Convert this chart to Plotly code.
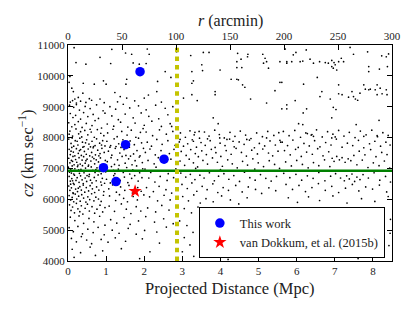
import plotly.graph_objects as go

# ---------------- data ----------------
# Projected distance (Mpc), cz (km/s) of the background galaxy cloud, by region
core_inner = [  # x 0-1, y 5500-8300
 (0.05,8210),(0.12,8050),(0.21,8280),(0.28,8120),(0.36,8020),(0.44,8230),(0.52,8090),(0.61,8180),(0.69,8010),(0.77,8260),(0.86,8140),(0.94,8060),(0.03,8110),(0.33,8190),(0.58,8270),
 (0.02,7950),(0.08,7810),(0.15,7720),(0.19,7900),(0.26,7760),(0.31,7980),(0.38,7850),(0.42,7710),(0.49,7930),(0.55,7790),(0.63,7880),(0.71,7740),(0.75,7960),(0.83,7820),(0.91,7900),(0.97,7730),(0.11,7990),(0.46,7830),(0.67,7710),(0.88,7760),(0.24,7880),
 (0.03,7620),(0.06,7450),(0.10,7680),(0.14,7530),(0.18,7410),(0.22,7640),(0.27,7490),(0.30,7580),(0.35,7420),(0.39,7690),(0.43,7550),(0.48,7460),(0.53,7630),(0.57,7410),(0.62,7520),(0.66,7670),(0.72,7440),(0.78,7590),(0.84,7480),(0.89,7650),(0.95,7520),(0.08,7560),(0.33,7610),(0.59,7700),(0.81,7410),
 (0.02,7330),(0.05,7180),(0.09,7260),(0.13,7390),(0.16,7120),(0.20,7290),(0.23,7200),(0.29,7350),(0.32,7140),(0.37,7270),(0.41,7380),(0.45,7170),(0.50,7300),(0.54,7110),(0.60,7240),(0.64,7370),(0.70,7150),(0.74,7280),(0.80,7210),(0.85,7340),(0.92,7130),(0.98,7260),(0.12,7230),(0.26,7110),(0.47,7250),(0.68,7320),
 (0.01,7040),(0.04,6880),(0.07,6960),(0.11,7080),(0.15,6820),(0.18,6990),(0.22,6910),(0.25,7060),(0.30,6840),(0.34,6970),(0.38,7090),(0.42,6860),(0.46,7010),(0.51,6920),(0.56,6810),(0.61,7050),(0.65,6940),(0.71,6870),(0.76,7020),(0.82,6900),(0.87,6830),(0.93,7000),(0.99,6890),(0.09,6850),(0.28,6950),(0.53,7070),(0.73,6960),
 (0.03,6740),(0.06,6590),(0.10,6670),(0.14,6520),(0.17,6780),(0.21,6610),(0.24,6700),(0.29,6550),(0.33,6760),(0.37,6630),(0.40,6510),(0.45,6690),(0.49,6580),(0.55,6740),(0.59,6620),(0.63,6530),(0.69,6710),(0.74,6600),(0.79,6790),(0.86,6560),(0.90,6680),(0.96,6520),(0.12,6600),(0.50,6770),
 (0.02,6430),(0.05,6290),(0.09,6370),(0.13,6210),(0.16,6480),(0.20,6330),(0.25,6250),(0.31,6410),(0.35,6300),(0.40,6460),(0.44,6230),(0.48,6380),(0.54,6270),(0.58,6440),(0.64,6340),(0.70,6220),(0.75,6400),(0.81,6300),(0.88,6460),(0.94,6250),(0.07,6490),(0.27,6360),
 (0.03,6120),(0.07,5980),(0.11,6060),(0.15,5920),(0.19,6170),(0.23,6010),(0.28,6100),(0.32,5940),(0.36,6150),(0.41,6040),(0.47,5910),(0.52,6080),(0.57,5990),(0.62,6180),(0.68,5950),(0.73,6070),(0.80,6010),(0.87,5930),(0.93,6130),(0.14,6190),
 (0.04,5820),(0.08,5640),(0.12,5750),(0.17,5560),(0.22,5870),(0.26,5690),(0.31,5600),(0.35,5790),(0.39,5520),(0.45,5710),(0.51,5840),(0.56,5620),(0.63,5760),(0.70,5550),(0.76,5680),(0.84,5810),(0.91,5590),(0.97,5730),
]
core_mid = [  # x 1-2, y 5500-8300
 (1.04,8150),(1.18,8270),(1.29,8030),(1.41,8200),(1.55,8080),(1.66,8240),(1.78,8010),(1.90,8170),(1.97,8290),
 (1.02,7880),(1.12,7740),(1.21,7960),(1.33,7800),(1.44,7930),(1.58,7720),(1.63,7890),(1.74,7770),(1.85,7980),(1.93,7830),(1.26,7710),
 (1.06,7560),(1.15,7430),(1.24,7650),(1.36,7500),(1.47,7610),(1.52,7420),(1.61,7690),(1.72,7470),(1.81,7580),(1.89,7410),(1.98,7650),(1.10,7690),(1.39,7680),
 (1.03,7220),(1.13,7350),(1.22,7130),(1.30,7280),(1.42,7390),(1.50,7170),(1.59,7310),(1.68,7120),(1.76,7250),(1.87,7370),(1.95,7190),(1.34,7100),(1.64,7400),
 (1.05,6910),(1.14,7060),(1.23,6830),(1.32,6980),(1.45,6870),(1.54,7030),(1.62,6820),(1.70,6950),(1.80,7080),(1.88,6860),(1.96,6990),(1.19,6940),
 (1.01,6650),(1.11,6530),(1.20,6770),(1.37,6610),(1.48,6720),(1.57,6540),(1.67,6680),(1.75,6770),(1.84,6590),(1.94,6700),(1.29,6510),
 (1.07,6340),(1.17,6470),(1.27,6230),(1.38,6400),(1.49,6290),(1.60,6450),(1.69,6200),(1.83,6380),(1.92,6260),
 (1.09,6110),(1.25,5960),(1.35,6150),(1.46,6030),(1.56,5920),(1.71,6090),(1.82,5980),(1.99,6140),
 (1.08,5780),(1.22,5610),(1.40,5850),(1.53,5680),(1.65,5540),(1.79,5760),(1.91,5620),
]
core_outer = [  # x 2-2.9, y 5500-8300
 (2.05,8180),(2.22,8060),(2.40,8250),(2.58,8110),(2.75,8200),
 (2.08,7850),(2.19,7720),(2.33,7940),(2.47,7780),(2.62,7900),(2.81,7750),
 (2.03,7520),(2.15,7630),(2.29,7440),(2.44,7580),(2.66,7480),(2.78,7620),
 (2.10,7260),(2.26,7150),(2.37,7350),(2.55,7210),(2.70,7300),(2.86,7140),
 (2.02,6980),(2.17,6870),(2.31,7040),(2.49,6920),(2.63,6830),(2.83,6990),
 (2.12,6690),(2.28,6560),(2.42,6740),(2.60,6610),(2.77,6700),
 (2.06,6380),(2.24,6250),(2.39,6420),(2.57,6310),(2.72,6200),
 (2.14,6080),(2.35,5950),(2.52,6130),(2.68,5980),
 (2.09,5720),(2.30,5590),(2.46,5800),(2.65,5650),(2.84,5530),
]
core_low = [  # x 0-2.9, y 4000-5500
 (0.06,5420),(0.18,5310),(0.29,5460),(0.41,5220),(0.55,5380),(0.68,5270),(0.83,5450),(0.97,5160),(1.12,5340),(1.28,5230),(1.47,5410),(1.63,5190),(1.85,5300),(2.04,5440),(2.27,5260),(2.51,5370),(2.76,5210),
 (0.03,5080),(0.14,4950),(0.26,5120),(0.38,4880),(0.52,5030),(0.66,4920),(0.79,5090),(0.95,4850),(1.16,5000),(1.34,4900),(1.58,5060),(1.79,4870),(2.01,4990),(2.33,4940),(2.58,5100),
 (0.09,4730),(0.22,4620),(0.35,4790),(0.49,4680),(0.62,4560),(0.87,4700),(1.05,4610),(1.24,4750),(1.51,4640),(1.95,4720),(2.40,4580),
 (0.11,4380),(0.33,4270),(0.58,4450),(0.91,4330),(1.40,4400),(2.15,4300),(0.16,4120),(0.72,4180),(1.88,4080),
]
core_high = [  # x 0-2.9, y 8300-11000
 (0.04,9050),(0.15,8980),(0.22,9070),(0.30,8890),(0.45,9010),(0.58,8940),(0.75,9060),(0.92,8870),(1.10,9000),(1.25,8920),(1.45,9080),(1.62,8960),(1.85,9030),(2.05,8900),(2.30,9050),(2.55,8950),(2.75,9000),
 (0.06,8780),(0.13,8650),(0.20,8720),(0.33,8600),(0.41,8810),(0.52,8680),(0.66,8750),(0.80,8620),(0.97,8790),(1.15,8700),(1.32,8580),(1.50,8760),(1.71,8640),(1.92,8800),(2.12,8690),(2.38,8610),(2.62,8740),
 (0.02,8480),(0.10,8350),(0.18,8420),(0.27,8520),(0.37,8330),(0.48,8460),(0.63,8390),(0.71,8550),(0.88,8310),(1.03,8440),(1.20,8370),(1.38,8500),(1.57,8340),(1.76,8470),(2.00,8400),(2.20,8530),(2.45,8360),(2.68,8450),
 (0.06,9150),(0.12,9200),(0.22,9120),(0.33,9180),(0.47,9140),(0.62,9210),(0.95,9130),(1.30,9160),(1.75,9190),(2.45,9150),
 (0.16,10913),(1.15,10860),(1.51,10740),(1.67,10700),(2.08,10870),(2.13,10700),(0.21,10430),(0.47,10380),(0.84,10600),(1.12,10400),(1.71,10420),(1.87,10380),(2.05,10400),(2.55,10140),(2.70,9950),(0.05,9980),(0.03,9790),(0.40,9760),(0.69,9730),(0.93,9840),(1.00,9730),(1.54,9890),(1.52,9730),(2.35,9820),(0.10,9600),(0.14,9490),(0.39,9440),(0.18,9250),(0.27,9300),(0.56,9260),(0.84,9250),(1.23,9460),(1.37,9330),(1.54,9280),(2.00,9280),(2.11,9380),(2.33,9490),
]
field_high = [  # x 2.9-8.5, y 7900-11000
 (2.85,10785),(3.22,10660),(3.55,10760),(3.70,10760),(3.51,10360),(4.45,10730),(4.72,10700),(4.71,10620),(4.54,10540),(4.43,10460),(5.11,10700),(5.17,10570),(5.21,10460),(5.13,10410),(5.26,10250),(5.56,10460),(5.74,10410),
 (3.25,10140),(3.53,10170),(3.99,10190),(4.43,10270),(4.56,10270),(4.28,9890),(4.43,9890),(4.47,9870),(3.29,9840),(3.25,9760),(4.58,9710),(4.64,9630),(5.56,9790),(3.03,9280),(3.25,9390),(3.86,9490),(3.86,9390),(3.39,9200),(4.79,9250),(5.43,9520),(5.21,9120),(5.61,8930),(5.74,9060),
 (3.81,8640),(2.72,8360),(3.94,8450),(3.33,8170),(3.44,8200),(2.94,7940),(3.29,7880),(3.66,7960),(3.98,7990),(4.17,7940),(4.33,7880),(4.69,7940),(5.21,7990),(5.56,7910),
 (5.70,10870),(5.98,10760),(6.25,10840),(5.91,10680),(5.87,10460),(5.74,10460),(6.09,10460),(6.16,10480),(6.35,10540),(6.44,10410),(6.60,10460),(6.75,10430),(6.83,10410),(6.92,10500),(6.98,10430),(7.01,10360),(7.10,10460),(7.17,10570),(7.23,10460),(6.96,10250),(7.05,10190),(6.92,10300),
 (7.40,10920),(7.49,10700),(7.86,10780),(8.23,10650),(8.35,10620),(8.41,10710),(7.89,10300),(8.17,10220),(8.38,10300),(7.89,10140),(6.54,9950),(5.61,9790),(6.18,9730),(7.10,9710),(7.76,9710),(8.11,9710),
 (7.80,9570),(7.89,9550),(7.93,9570),(8.06,9550),(8.19,9600),(8.35,9550),(7.45,9490),(6.66,9490),(7.10,9420),(7.19,9390),(7.36,9310),(7.49,9330),(7.54,9250),(7.60,9210),(7.66,9440),(8.11,9390),(8.24,9420),(8.37,9390),(6.61,9330),(6.88,9250),(5.96,9200),
 (5.74,8930),(6.26,8930),(6.17,8800),(6.96,8980),(7.03,8910),(6.92,8640),(8.16,8560),(6.05,8450),(6.16,8420),(7.56,8420),(6.28,8130),(6.40,8100),(6.44,8040),(7.01,8020),(6.92,7990),(7.76,8040),(8.11,8060),
]
field_mid = [  # x 2.9-5.6, y 4000-8300
 (2.95,8150),(3.08,8010),(3.20,8220),(3.31,8090),(3.45,7980),(3.58,8180),(3.70,8050),(3.85,8240),(3.97,8100),(4.10,7990),(4.25,8170),(4.38,8040),(4.52,8210),(4.66,8080),(4.80,7970),(4.95,8150),(5.10,8030),(5.24,8200),(5.40,8070),(5.53,8160),
 (2.92,7860),(3.03,7720),(3.14,7800),(3.26,7930),(3.37,7690),(3.49,7840),(3.60,7750),(3.73,7900),(3.86,7680),(3.99,7820),(4.12,7740),(4.24,7950),(4.36,7700),(4.49,7860),(4.62,7780),(4.76,7920),(4.89,7670),(5.02,7810),(5.16,7730),(5.30,7890),(5.44,7760),(5.58,7850),
 (2.97,7550),(3.10,7420),(3.22,7610),(3.34,7480),(3.42,7380),(3.51,7570),(3.63,7450),(3.76,7620),(3.88,7510),(4.01,7390),(4.15,7580),(4.28,7460),(4.41,7650),(4.55,7520),(4.68,7400),(4.82,7590),(4.97,7470),(5.11,7630),(5.26,7500),(5.37,7410),(5.51,7560),
 (2.94,7240),(3.06,7100),(3.18,7300),(3.29,7180),(3.40,7050),(3.54,7260),(3.66,7140),(3.79,7340),(3.92,7200),(4.05,7070),(4.19,7280),(4.31,7150),(4.44,7020),(4.58,7230),(4.71,7110),(4.85,7310),(4.99,7180),(5.13,7060),(5.28,7250),(5.42,7130),(5.55,7000),(3.35,7000),(4.00,6960),(4.90,6980),
 (2.96,6850),(3.09,6720),(3.21,6810),(3.33,6640),(3.46,6780),(3.57,6690),(3.71,6860),(3.84,6600),(3.95,6750),(4.09,6830),(4.22,6650),(4.35,6770),(4.50,6580),(4.63,6880),(4.77,6700),(4.91,6620),(5.05,6800),(5.19,6680),(5.33,6590),(5.47,6740),
 (2.99,6480),(3.13,6350),(3.25,6530),(3.38,6260),(3.52,6420),(3.65,6310),(3.80,6500),(3.93,6220),(4.07,6380),(4.21,6290),(4.40,6450),(4.57,6240),(4.73,6400),(4.92,6320),(5.08,6190),(5.27,6370),(5.45,6280),
 (3.01,6090),(3.16,5950),(3.30,6140),(3.47,5880),(3.62,6020),(3.81,5920),(4.03,6110),(4.26,5980),(4.48,5850),(4.70,6050),(3.05,5700),(3.24,5560),(3.41,5750),(3.68,5630),(3.90,5480),(4.15,5690),
 (2.93,5300),(3.12,5150),(3.28,4930),(3.05,4760),(3.20,4520),(3.00,4300),(3.30,4150),(4.20,4050),
]
field_far = [  # x 5.6-8.5, y 4000-8300
 (5.65,8200),(5.80,8060),(5.95,8230),(6.10,8010),(6.24,8150),(6.38,8080),(6.52,8250),(6.67,8020),(6.81,8190),(6.95,8110),(7.10,8230),(7.24,8050),(7.38,8170),(7.53,8000),(7.67,8210),(7.82,8090),(7.97,8240),(8.12,8030),(8.26,8160),(8.40,8070),
 (5.62,7850),(5.76,7740),(5.90,7920),(6.04,7680),(6.19,7810),(6.33,7730),(6.47,7900),(6.61,7700),(6.76,7840),(6.90,7760),(7.04,7950),(7.19,7690),(7.33,7820),(7.47,7740),(7.62,7910),(7.76,7670),(7.91,7800),(8.05,7880),(8.20,7720),(8.34,7850),(8.45,7760),
 (5.68,7580),(5.83,7440),(5.97,7620),(6.12,7390),(6.26,7530),(6.41,7460),(6.55,7640),(6.69,7410),(6.84,7540),(6.93,7330),(6.98,7230),(7.05,7390),(7.12,7280),(7.19,7350),(7.27,7200),(7.35,7310),(7.42,7250),(7.50,7420),(7.64,7560),(7.79,7440),(7.94,7610),(8.08,7380),(8.23,7520),(8.37,7450),
 (5.71,7210),(5.86,7080),(6.00,7260),(6.15,7130),(6.30,7020),(6.44,7190),(6.58,7090),(6.73,7280),(6.87,7060),(7.58,7120),(7.72,7270),(7.87,7030),(8.01,7180),(8.16,7090),(8.30,7240),(8.44,7010),
 (5.66,6840),(5.82,6700),(5.98,6810),(6.13,6620),(6.28,6760),(6.43,6680),(6.58,6870),(6.74,6600),(6.89,6750),(7.02,6830),(7.15,6690),(7.25,6600),(7.31,6760),(7.38,6660),(7.45,6820),(7.52,6580),(7.58,6720),(7.66,6640),(7.74,6800),(7.88,6690),(8.03,6860),(8.18,6620),(8.33,6740),(8.46,6560),
 (5.72,6480),(5.89,6320),(6.06,6450),(6.23,6250),(6.40,6380),(6.57,6510),(6.75,6290),(6.92,6420),(7.10,6220),(7.28,6360),(7.46,6480),(7.63,6270),(7.81,6400),(7.99,6330),(8.17,6460),(8.36,6240),
 (5.78,6050),(6.02,5900),(6.31,6080),(6.60,5960),(6.95,6110),(7.32,5880),(7.70,6020),(8.05,5930),(8.40,6090),
 (5.85,5580),(6.60,5490),(7.40,5650),(8.20,5520),(7.05,5380),(8.46,5350),(7.61,5480),(7.85,5470),(8.45,4900),(8.42,4500),(7.61,4080),
]

this_work_x = [1.89, 1.51, 2.52, 0.93, 1.26]
this_work_y = [10135, 7770, 7300, 7025, 6575]
vd_x = [1.76]
vd_y = [6260]

coma_cz = 6925          # green horizontal line
r_vir_mpc = 2.86        # yellow dashed vertical line
x_range_mpc = [0, 8.5]
x_range_arcmin = [0, 300]
y_range = [4000, 11000]

bottom_ticks = [0, 1, 2, 3, 4, 5, 6, 7, 8]
top_ticks = [0, 50, 100, 150, 200, 250, 300]
y_ticks = [4000, 5000, 6000, 7000, 8000, 9000, 10000, 11000]

x_title = "Projected Distance (Mpc)"
top_title = "<i>r</i> (arcmin)"
y_title = "<i>cz</i> (km sec<sup>−1</sup>)"

# ---------------- figure ----------------
bg = core_inner + core_mid + core_outer + core_low + core_high + field_high + field_mid + field_far
bg_x = [p[0] for p in bg]
bg_y = [p[1] for p in bg]

FONT = "Liberation Serif, Times New Roman, serif"
TXT = "#222"
fig = go.Figure()
fig.add_trace(go.Scatter(x=bg_x, y=bg_y, mode="markers", showlegend=False,
                         marker=dict(color="black", size=1.7, line=dict(width=0)),
                         hoverinfo="skip"))
fig.add_trace(go.Scatter(x=x_range_mpc, y=[coma_cz, coma_cz], mode="lines", showlegend=False,
                         line=dict(color="#008000", width=2.3), hoverinfo="skip"))
fig.add_trace(go.Scatter(x=[r_vir_mpc, r_vir_mpc], y=y_range, mode="lines", showlegend=False,
                         line=dict(color="#c4c400", width=4, dash="4.5px,4.2px"), hoverinfo="skip"))
fig.add_trace(go.Scatter(x=this_work_x, y=this_work_y, mode="markers", name="This work",
                         marker=dict(color="#0000ff", size=9.5, line=dict(width=0))))
fig.add_trace(go.Scatter(x=vd_x, y=vd_y, mode="markers", name="van Dokkum, et al. (2015b)",
                         marker=dict(color="#ff0000", size=10, symbol="star", line=dict(width=0))))
# invisible trace to carry the top (arcmin) axis
fig.add_trace(go.Scatter(x=x_range_arcmin, y=[y_range[0], y_range[0]], xaxis="x2", mode="markers",
                         marker=dict(opacity=0), showlegend=False, hoverinfo="skip"))

axis_common = dict(showgrid=False, zeroline=False, showline=True, linecolor="black", linewidth=1.2,
                   ticks="inside", ticklen=5, tickwidth=1, tickcolor="black", automargin=False,
                   tickfont=dict(family=FONT, size=11, color=TXT))

fig.update_layout(
    template="none",
    # the page body adds an 8px offset, so the figure is sized/margined to land the
    # plot area at the same place as in the reference
    width=407, height=304,
    margin=dict(l=60, r=23, t=37, b=51),
    paper_bgcolor="white", plot_bgcolor="white",
    font=dict(family=FONT, color=TXT),
    xaxis=dict(range=x_range_mpc, tickvals=bottom_ticks, **axis_common),
    xaxis2=dict(range=x_range_arcmin, tickvals=top_ticks, overlaying="x", side="top", anchor="y",
                **axis_common),
    yaxis=dict(range=y_range, tickvals=y_ticks, tickformat="d", mirror="ticks", **axis_common),
    legend=dict(x=0.978, xanchor="right", y=0.012, yanchor="bottom",
                bgcolor="white", bordercolor="black", borderwidth=1,
                font=dict(family=FONT, size=12.5, color=TXT), itemwidth=30,
                tracegroupgap=0),
    annotations=[
        dict(text=x_title, xref="paper", yref="paper", x=0.5, y=-0.125, xanchor="center",
             yanchor="middle", showarrow=False, font=dict(family=FONT, size=16.5, color=TXT)),
        dict(text=top_title, xref="paper", yref="paper", x=0.5, y=1.11, xanchor="center",
             yanchor="middle", showarrow=False, font=dict(family=FONT, size=16, color=TXT)),
        dict(text=y_title, xref="paper", yref="paper", x=-0.13, y=0.5, xanchor="center",
             yanchor="middle", textangle=-90, showarrow=False,
             font=dict(family=FONT, size=16.5, color=TXT)),
    ],
)

fig.write_html("out.html")
